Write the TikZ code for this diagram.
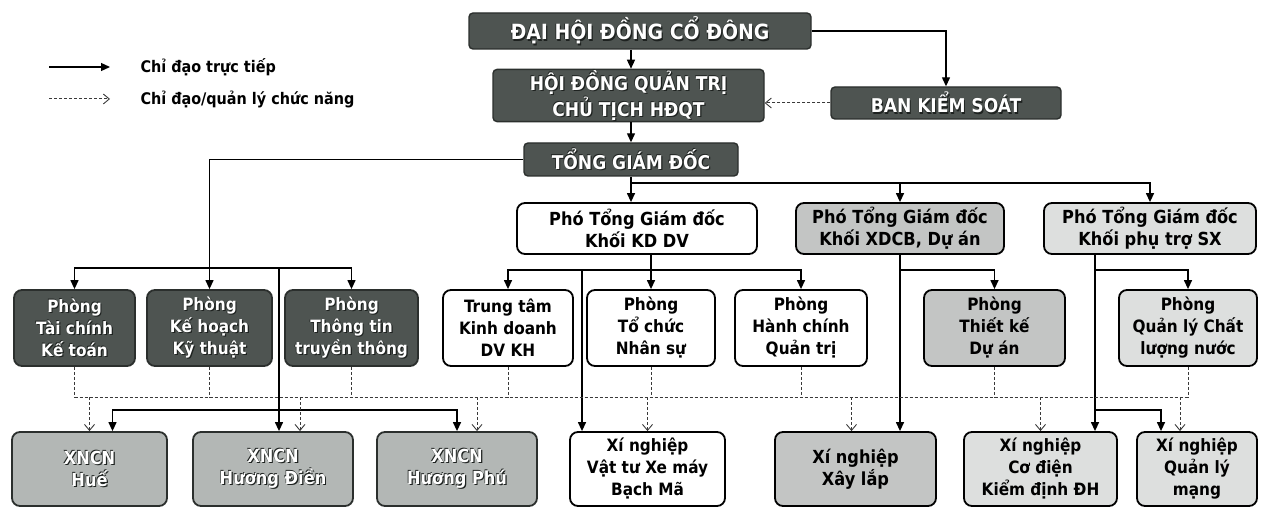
\documentclass[tikz,border=0pt]{standalone}
\usepackage{fontspec}
\setmainfont{DejaVu Sans Condensed}
\usepackage{xcolor}
\usepackage{tikz}
\usetikzlibrary{arrows.meta,positioning,calc}

\definecolor{darkfill}{HTML}{4E5451}
\definecolor{darkedge}{HTML}{2B2F2D}
\definecolor{xnfill}{HTML}{B3B7B5}
\definecolor{xdfill}{HTML}{C3C5C4}
\definecolor{sxfill}{HTML}{DDDFDE}
\definecolor{dashgray}{HTML}{3A3A3A}
\definecolor{embedge}{HTML}{1E2220}

% white text with a dark rim
\newcommand{\emb}[1]{\leavevmode\rlap{\hspace{1.2pt}\raisebox{-1.2pt}{\color{embedge}#1}}\rlap{\hspace{-0.6pt}\raisebox{0.6pt}{\color{embedge}#1}}{\color{white}#1}}

\begin{document}
\begin{tikzpicture}[x=1pt,y=-1pt,
    every node/.style={font=\fontsize{17}{22}\selectfont\bfseries},
    big/.style      ={font=\fontsize{19}{22}\selectfont\bfseries},
    mid/.style      ={font=\fontsize{18}{22}\selectfont\bfseries},
    topbox/.style   ={rectangle,rounded corners=4pt,draw=darkedge,line width=1.4pt,
                     fill=darkfill,text=white,inner sep=0pt,align=center,big},
    deptdark/.style ={rectangle,rounded corners=8pt,draw=darkedge,line width=1.8pt,
                     fill=darkfill,text=white,inner sep=0pt,align=center},
    whitebox/.style ={rectangle,rounded corners=8pt,draw=black,line width=1.8pt,
                     fill=white,inner sep=0pt,align=center},
    xdbox/.style    ={whitebox,fill=xdfill},
    sxbox/.style    ={whitebox,fill=sxfill},
    xncn/.style     ={rectangle,rounded corners=8pt,draw=darkedge,line width=1.8pt,
                     fill=xnfill,text=white,inner sep=0pt,align=center,mid},
    arr/.style      ={-{Triangle[length=9pt,width=8pt]},line width=1.3pt,black},
    dline/.style    ={-,dashgray,line width=1pt,dash pattern=on 3pt off 2pt},
    darr/.style     ={dline,-{Straight Barb[length=6pt,width=10pt,line width=0.9pt]}},
  ]
  \useasboundingbox (0,0) rectangle (1262,508);

  % --- legend ---
  \coordinate (ls1) at (49,67);  \coordinate (le1) at (110,67);
  \coordinate (ls2) at (49,99);  \coordinate (le2) at (110,99);
  \draw[arr] (ls1) -- (le1);
  \draw[darr] (ls2) -- (le2);
  \node[anchor=west,font=\fontsize{16}{20}\selectfont\bfseries] (lg1) at (137,67) {Chỉ đạo trực tiếp};
  \node[anchor=west,font=\fontsize{16}{20}\selectfont\bfseries] (lg2) at (137,99) {Chỉ đạo/quản lý chức năng};

  % --- top management ---
  \node[topbox,minimum width=342,minimum height=36,font=\fontsize{21}{22}\selectfont\bfseries]
       (dhdcd) at (640,31) {\emb{ĐẠI HỘI ĐỒNG CỔ ĐÔNG}};
  \node[topbox,minimum width=271,minimum height=49] (hdqt) at (628.5,95.5)
       {\emb{HỘI ĐỒNG QUẢN TRỊ}\\\emb{CHỦ TỊCH HĐQT}};
  \node[topbox,minimum width=230,minimum height=32] (bks) at (946,103)
       {\emb{BAN KIỂM SOÁT}};
  \node[topbox,minimum width=214,minimum height=33] (tgd) at (631,159.5)
       {\emb{TỔNG GIÁM ĐỐC}};

  \draw[arr] (dhdcd.south -| tgd.north) -- (hdqt.north -| tgd.north);
  \draw[arr] (hdqt.south -| tgd.north) -- (tgd.north);
  \draw[arr] (dhdcd.east) -| (bks.north);
  \draw[darr] (bks.west) -- (hdqt.east |- bks.west);

  % --- deputy directors ---
  \node[whitebox,mid,minimum width=240,minimum height=51] (pkd) at (637,228.5)
       {Phó Tổng Giám đốc\\Khối KD DV};
  \node[xdbox,mid,minimum width=208,minimum height=51] (pxd) at (900,228.5)
       {Phó Tổng Giám đốc\\Khối XDCB, Dự án};
  \node[sxbox,mid,minimum width=212,minimum height=51] (psx) at (1150,228.5)
       {Phó Tổng Giám đốc\\Khối phụ trợ SX};

  \coordinate (tb) at (631,183);
  \draw[arr] (tgd.south) -- (tgd.south |- pkd.north);
  \draw[arr] (tb) -| (pxd.north);
  \draw[arr] (tb) -| (psx.north);

  % --- departments ---
  \node[deptdark,minimum width=121,minimum height=76] (ptc) at (74.5,328)
       {\emb{Phòng}\\\emb{Tài chính}\\\emb{Kế toán}};
  \node[deptdark,minimum width=125,minimum height=76] (pkh) at (209.5,328)
       {\emb{Phòng}\\\emb{Kế hoạch}\\\emb{Kỹ thuật}};
  \node[deptdark,minimum width=133,minimum height=76] (ptt) at (351.5,328)
       {\emb{Phòng}\\\emb{Thông tin}\\\emb{truyền thông}};
  \node[whitebox,minimum width=130,minimum height=76] (ttkd) at (508,328)
       {Trung tâm\\Kinh doanh\\DV KH};
  \node[whitebox,minimum width=128,minimum height=76] (ptcns) at (651,328)
       {Phòng\\Tổ chức\\Nhân sự};
  \node[whitebox,minimum width=132,minimum height=76] (phc) at (801,328)
       {Phòng\\Hành chính\\Quản trị};
  \node[xdbox,minimum width=141,minimum height=76] (ptk) at (994.5,328)
       {Phòng\\Thiết kế\\Dự án};
  \node[sxbox,minimum width=138,minimum height=76] (pcl) at (1188,328)
       {Phòng\\Quản lý Chất\\lượng nước};

  % --- enterprises ---
  \node[xncn,minimum width=155,minimum height=74] (hue) at (89.5,469)
       {\emb{XNCN}\\\emb{Huế}};
  \node[xncn,minimum width=160,minimum height=74] (hdi) at (273,469)
       {\emb{XNCN}\\\emb{Hương Điền}};
  \node[xncn,minimum width=160,minimum height=74] (hph) at (457,469)
       {\emb{XNCN}\\\emb{Hương Phú}};
  \node[whitebox,minimum width=155,minimum height=74] (xvt) at (647.5,469)
       {Xí nghiệp\\Vật tư Xe máy\\Bạch Mã};
  \node[xdbox,mid,minimum width=161,minimum height=74] (xxl) at (855.5,469)
       {Xí nghiệp\\Xây lắp};
  \node[sxbox,minimum width=153,minimum height=74] (xcd) at (1040.5,469)
       {Xí nghiệp\\Cơ điện\\Kiểm định ĐH};
  \node[sxbox,minimum width=120,minimum height=74] (xql) at (1197,469)
       {Xí nghiệp\\Quản lý\\mạng};

  % direct lines, left group
  \coordinate (lb)  at (209.5,268);
  \coordinate (lbe) at (279,268);
  \coordinate (xb)  at (279,410);
  \draw[arr] (tgd.west) -| (pkh.north);
  \draw[arr] (lb) -| (ptc.north);
  \draw[arr] (lb) -| (ptt.north);
  \draw[arr] (lbe) -- (lbe |- hdi.north);
  \draw[arr] (xb) -| ([xshift=23pt]hue.north);
  \draw[arr] (xb) -| (hph.north);

  % direct lines, KD DV
  \coordinate (kb)  at (651,270);
  \coordinate (kbv) at (582,270);
  \draw[arr] (pkd.south -| ptcns.north) -- (ptcns.north);
  \draw[arr] (kb) -| (ttkd.north);
  \draw[arr] (kb) -| (phc.north);
  \draw[arr] (kbv) -- (kbv |- xvt.north);

  % direct lines, XDCB and SX
  \coordinate (xdb) at (900,270);
  \coordinate (sxt) at (1095,270);
  \coordinate (sxb) at (1095,410);
  \draw[arr] (pxd.south) -- (pxd.south |- xxl.north);
  \draw[arr] (xdb) -| (ptk.north);
  \draw[arr] (sxt |- psx.south) -- (sxt |- xcd.north);
  \draw[arr] (sxt) -| (pcl.north);
  \draw[arr] (sxb) -| ([xshift=-36pt]xql.north);

  % --- functional (dashed) lines ---
  \coordinate (db) at (0,397);
  \foreach \n in {ptc,pkh,ptt,ttkd,ptcns,phc,ptk,pcl}
    \draw[dline] (\n.south) -- (\n.south |- db);
  \draw[dline] (ptc.south |- db) -- (pcl.south |- db);
  \foreach \n/\s in {hue/0,hdi/27,hph/20,xvt/0,xxl/-4,xcd/0,xql/-17}
    \draw[darr] ([xshift=\s pt]\n.north |- db) -- ([xshift=\s pt]\n.north);
\end{tikzpicture}
\end{document}
